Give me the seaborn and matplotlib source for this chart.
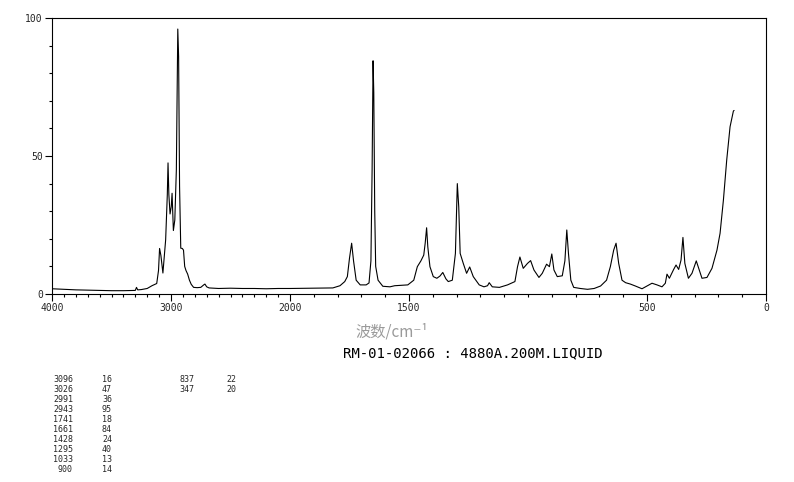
"""
Raman spectrum plot (RM-01-02066, 4880A, liquid) with a split x scale:
4000-2000 cm-1 drawn at half the density of 2000-0 cm-1.
"""

import matplotlib

matplotlib.use("Agg")
import matplotlib.pyplot as plt  # noqa: E402
import numpy as np  # noqa: E402
import seaborn as sns  # noqa: E402
from matplotlib.ticker import FixedLocator, MultipleLocator  # noqa: E402

# ── Spectrum data ─────────────────────────────────────────────────────────────
wavenumber = [
    4000, 3900, 3800, 3700, 3600, 3500, 3400, 3300, 3290, 3280, 3250, 3200,
    3160, 3120, 3105, 3096, 3085, 3068, 3045, 3031, 3025, 3018, 3008, 2998,
    2991, 2980, 2968, 2955, 2948, 2943, 2936, 2928, 2918, 2905, 2895, 2885,
    2874, 2860, 2845, 2830, 2810, 2780, 2750, 2725, 2715, 2700, 2680, 2600,
    2500, 2400, 2300, 2200, 2100, 2000, 1900, 1820, 1790, 1770, 1759, 1750,
    1741, 1733, 1722, 1705, 1680, 1668, 1660, 1655, 1651, 1648, 1644, 1640,
    1630, 1610, 1580, 1560, 1505, 1480, 1465, 1450, 1438, 1432, 1426, 1421,
    1412, 1398, 1383, 1370, 1358, 1345, 1335, 1318, 1305, 1297, 1291, 1285,
    1272, 1258, 1245, 1230, 1205, 1185, 1170, 1163, 1150, 1120, 1086, 1055,
    1044, 1034, 1020, 1002, 989, 975, 954, 940, 922, 910, 900, 891,
    877, 856, 845, 837, 830, 820, 808, 780, 750, 722, 695, 670,
    654, 640, 630, 619, 605, 590, 570, 549, 521, 500, 479, 458,
    437, 423, 416, 406, 388, 378, 367, 357, 349, 341, 326, 311,
    293, 285, 269, 248, 227, 206, 193, 179, 165, 151, 137, 134,
]
intensity = [
    1.9, 1.7, 1.5, 1.4, 1.3, 1.2, 1.2, 1.3, 2.4, 1.5, 1.6, 2.0,
    3.0, 3.8, 8.5, 16.5, 14.0, 7.6, 19.6, 36.0, 47.5, 36.0, 29.0, 31.6,
    36.5, 23.0, 26.8, 45.0, 76.0, 96.0, 86.0, 39.0, 16.6, 16.5, 15.9, 10.0,
    8.5, 7.2, 5.0, 3.5, 2.4, 2.3, 2.4, 3.3, 3.6, 2.6, 2.2, 2.0,
    2.1, 2.0, 2.0, 1.9, 2.0, 2.0, 2.1, 2.2, 3.0, 4.5, 6.3, 13.0,
    18.4, 12.0, 5.0, 3.3, 3.3, 4.0, 12.0, 45.0, 84.5, 73.0, 30.0, 10.0,
    5.0, 2.8, 2.6, 3.0, 3.3, 5.0, 9.9, 12.0, 14.1, 18.4, 24.0, 17.1,
    9.9, 6.3, 5.7, 6.5, 7.8, 5.5, 4.5, 5.0, 14.7, 40.0, 31.6, 14.7,
    11.1, 7.5, 9.8, 6.3, 3.3, 2.6, 3.0, 4.1, 2.6, 2.4, 3.3, 4.5,
    9.9, 13.4, 9.3, 11.1, 12.1, 8.7, 6.0, 7.5, 10.8, 9.9, 14.5, 8.7,
    6.3, 6.6, 12.0, 23.2, 14.7, 5.0, 2.4, 2.0, 1.7, 2.0, 2.9, 5.0,
    9.9, 15.9, 18.4, 11.1, 5.0, 4.1, 3.6, 2.9, 1.9, 2.9, 3.9, 3.3,
    2.6, 3.9, 7.2, 5.7, 8.9, 10.5, 8.9, 12.3, 20.5, 11.1, 5.7, 7.5,
    12.0, 9.9, 5.7, 6.0, 9.3, 15.9, 22.0, 34.0, 48.6, 60.6, 66.3, 66.5,
]

# ── Peak table printed under the chart ────────────────────────────────────────
peak_pos_1 = ["3096", "3026", "2991", "2943", "1741", "1661", "1428", "1295", "1033", "900"]
peak_int_1 = ["16", "47", "36", "95", "18", "84", "24", "40", "13", "14"]
peak_pos_2 = ["837", "347"]
peak_int_2 = ["22", "20"]

x_major = [4000, 3000, 2000, 1500, 500, 0]
x_major_labels = ["4000", "3000", "2000", "1500", "500", "0"]
y_major = [0, 50, 100]

MONO = "DejaVu Sans Mono"
W, H = 794, 482


# ── Helpers ───────────────────────────────────────────────────────────────────
def fwd(w):
    """Compress the region above 2000 cm-1 by a factor of two."""
    w = np.asarray(w, dtype=float)
    return np.where(w > 2000, 2000 + (w - 2000) / 2, w)


def inv(u):
    u = np.asarray(u, dtype=float)
    return np.where(u > 2000, 2000 + (u - 2000) * 2, u)


def px(x, y):
    """Pixel position (from top-left) to figure fraction."""
    return x / W, 1 - y / H


# ── Plot ──────────────────────────────────────────────────────────────────────
sns.set_style("ticks")
fig = plt.figure(figsize=(W / 100, H / 100), dpi=100)
ax = fig.add_axes([52 / W, 1 - 294 / H, 714 / W, 276 / H])

sns.lineplot(
    x=wavenumber,
    y=intensity,
    ax=ax,
    color="black",
    linewidth=0.8,
    sort=False,
    estimator=None,
)

ax.set_xscale("function", functions=(fwd, inv))
ax.set_xlim(4000, 0)
ax.set_ylim(0, 100)

ax.xaxis.set_major_locator(FixedLocator(x_major))
ax.set_xticklabels(x_major_labels)
ax.xaxis.set_minor_locator(MultipleLocator(100))
ax.yaxis.set_major_locator(FixedLocator(y_major))
ax.yaxis.set_minor_locator(MultipleLocator(10))

ax.tick_params(axis="both", which="major", direction="out", length=5,
               width=0.8, color="black", labelsize=7, pad=1.5)
ax.tick_params(axis="both", which="minor", direction="out", length=2.2,
               width=0.8, color="black")
for lab in ax.get_xticklabels() + ax.get_yticklabels():
    lab.set_family(MONO)

for side in ["top", "right", "bottom", "left"]:
    ax.spines[side].set_visible(True)
    ax.spines[side].set_linewidth(0.8)
    ax.spines[side].set_color("black")

ax.set_xlabel("")
ax.set_ylabel("")

# axis caption and sample line
fig.text(*px(355, 332), "波数/cm⁻¹", family=["Noto Sans CJK SC", "DejaVu Sans"],
         fontsize=11, color="#9a9a9a", ha="left", va="center")
fig.text(*px(343, 353), "RM-01-02066 : 4880A.200M.LIQUID", family=MONO,
         fontsize=10.1, color="black", ha="left", va="center")

# peak table
for i, (pos, val) in enumerate(zip(peak_pos_1, peak_int_1)):
    y = 380 + i * 9.9
    fig.text(*px(73, y), pos, family=MONO, fontsize=6, ha="right", va="center")
    fig.text(*px(102, y), val, family=MONO, fontsize=6, ha="left", va="center")
for i, (pos, val) in enumerate(zip(peak_pos_2, peak_int_2)):
    y = 380 + i * 9.9
    fig.text(*px(194, y), pos, family=MONO, fontsize=6, ha="right", va="center")
    fig.text(*px(226, y), val, family=MONO, fontsize=6, ha="left", va="center")

fig.savefig("out.png", dpi=100)
plt.close(fig)
